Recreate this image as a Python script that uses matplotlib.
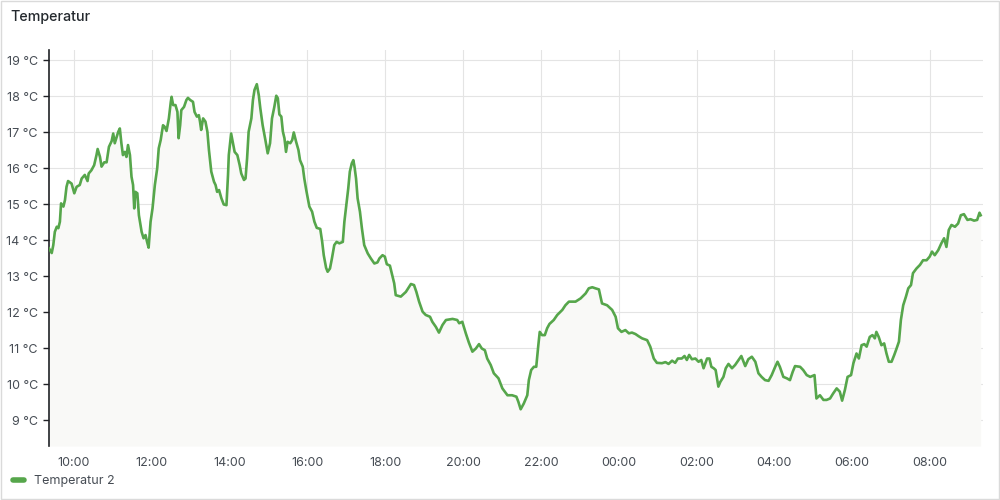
import datetime as dt
import matplotlib
matplotlib.use("Agg")
import matplotlib.pyplot as plt
import matplotlib.dates as mdates
from matplotlib.lines import Line2D
from matplotlib.patches import Rectangle

# hours since midnight of the first day, temperature in degC
hours = [9.36, 9.43, 9.47, 9.51, 9.56, 9.60, 9.64, 9.67, 9.73, 9.77, 9.81, 9.85, 9.94,
         10.01, 10.07, 10.15, 10.20, 10.28, 10.35, 10.38, 10.45, 10.52, 10.58, 10.61, 10.67,
         10.71, 10.78, 10.84, 10.90, 10.97, 11.01, 11.05, 11.09, 11.14, 11.18, 11.22, 11.26,
         11.31, 11.35, 11.39, 11.44, 11.48, 11.52, 11.55, 11.58, 11.63, 11.67, 11.74, 11.79,
         11.84, 11.88, 11.92, 11.97, 12.02, 12.08, 12.14, 12.18, 12.23, 12.29, 12.33, 12.38,
         12.44, 12.49, 12.51, 12.55, 12.61, 12.66, 12.69, 12.73, 12.76, 12.83, 12.89, 12.93,
         12.99, 13.06, 13.10, 13.16, 13.21, 13.24, 13.27, 13.32, 13.38, 13.43, 13.47, 13.53,
         13.60, 13.64, 13.68, 13.73, 13.79, 13.85, 13.92, 13.96, 13.98, 14.04, 14.08, 14.13,
         14.20, 14.26, 14.30, 14.37, 14.41, 14.45, 14.49, 14.56, 14.60, 14.64, 14.70, 14.75,
         14.79, 14.85, 14.92, 14.98, 15.04, 15.09, 15.15, 15.20, 15.24, 15.28, 15.33, 15.37,
         15.41, 15.45, 15.49, 15.56, 15.61, 15.65, 15.71, 15.77, 15.81, 15.88, 15.92, 15.97,
         16.05, 16.12, 16.18, 16.24, 16.33, 16.38, 16.42, 16.48, 16.52, 16.58, 16.63, 16.69,
         16.75, 16.82, 16.91, 16.95, 16.99, 17.05, 17.09, 17.14, 17.18, 17.21, 17.25, 17.29,
         17.35, 17.40, 17.46, 17.55, 17.63, 17.72, 17.80, 17.85, 17.93, 17.99, 18.04, 18.12,
         18.19, 18.23, 18.27, 18.40, 18.53, 18.66, 18.74, 18.80, 18.87, 18.96, 19.04, 19.15,
         19.21, 19.30, 19.38, 19.47, 19.56, 19.73, 19.85, 19.90, 19.98, 20.07, 20.15, 20.24,
         20.33, 20.41, 20.48, 20.56, 20.62, 20.71, 20.79, 20.91, 21.01, 21.14, 21.26, 21.37,
         21.42, 21.48, 21.56, 21.65, 21.69, 21.75, 21.82, 21.88, 21.93, 21.97, 22.03, 22.10,
         22.16, 22.22, 22.33, 22.42, 22.55, 22.63, 22.72, 22.89, 23.02, 23.15, 23.23, 23.32,
         23.40, 23.49, 23.57, 23.70, 23.83, 23.92, 23.98, 24.07, 24.17, 24.26, 24.34, 24.43,
         24.51, 24.60, 24.73, 24.81, 24.90, 24.98, 25.11, 25.20, 25.28, 25.37, 25.45, 25.52,
         25.62, 25.69, 25.75, 25.81, 25.88, 25.97, 26.05, 26.12, 26.18, 26.27, 26.33, 26.38,
         26.44, 26.49, 26.56, 26.61, 26.69, 26.75, 26.82, 26.91, 26.99, 27.08, 27.15, 27.25,
         27.33, 27.42, 27.51, 27.59, 27.67, 27.76, 27.85, 27.93, 28.02, 28.08, 28.14, 28.23,
         28.32, 28.40, 28.47, 28.53, 28.66, 28.74, 28.83, 28.92, 29.03, 29.08, 29.17, 29.26,
         29.34, 29.43, 29.51, 29.60, 29.68, 29.74, 29.81, 29.88, 29.97, 30.03, 30.11, 30.17,
         30.24, 30.31, 30.37, 30.45, 30.52, 30.58, 30.62, 30.68, 30.75, 30.82, 30.88, 30.94,
         31.01, 31.08, 31.14, 31.20, 31.25, 31.31, 31.38, 31.44, 31.51, 31.56, 31.65, 31.74,
         31.82, 31.91, 31.99, 32.05, 32.12, 32.21, 32.29, 32.36, 32.42, 32.48, 32.55, 32.64,
         32.72, 32.79, 32.87, 32.96, 33.04, 33.13, 33.21, 33.27, 33.30]

temps = [13.77, 13.64, 13.86, 14.23, 14.37, 14.33, 14.51, 15.02, 14.93, 15.11, 15.48, 15.64, 15.57,
         15.30, 15.48, 15.53, 15.71, 15.81, 15.64, 15.85, 15.94, 16.08, 16.36, 16.53, 16.31,
         16.04, 16.16, 16.16, 16.59, 16.75, 16.96, 16.69, 16.83, 17.01, 17.10, 16.69, 16.36,
         16.45, 16.31, 16.64, 16.36, 15.76, 15.53, 14.88, 15.34, 15.30, 14.69, 14.23, 14.05,
         14.14, 13.95, 13.79, 14.51, 14.88, 15.53, 15.99, 16.55, 16.78, 17.19, 17.15, 17.03,
         17.38, 17.84, 17.98, 17.75, 17.75, 17.56, 16.83, 17.19, 17.61, 17.70, 17.89, 17.95,
         17.89, 17.84, 17.56, 17.43, 17.47, 17.29, 17.06, 17.38, 17.29, 17.01, 16.50, 15.90,
         15.62, 15.53, 15.34, 15.39, 15.16, 14.99, 14.97, 15.81, 16.36, 16.96, 16.73, 16.45,
         16.36, 16.08, 15.85, 15.67, 15.71, 16.27, 17.01, 17.38, 17.89, 18.17, 18.33, 18.03,
         17.66, 17.19, 16.78, 16.41, 16.69, 17.38, 17.70, 18.01, 17.94, 17.49, 17.43, 17.01,
         16.83, 16.45, 16.73, 16.69, 16.78, 16.99, 16.73, 16.50, 16.22, 16.04, 15.71, 15.39,
         14.93, 14.79, 14.51, 14.34, 14.31, 13.95, 13.58, 13.23, 13.12, 13.21, 13.49, 13.86,
         13.95, 13.91, 13.95, 14.51, 14.88, 15.44, 15.90, 16.13, 16.22, 16.04, 15.71, 15.16,
         14.79, 14.33, 13.86, 13.63, 13.49, 13.35, 13.38, 13.49, 13.58, 13.54, 13.33, 13.29,
         12.98, 12.80, 12.47, 12.43, 12.56, 12.78, 12.75, 12.56, 12.29, 12.01, 11.92, 11.87,
         11.73, 11.59, 11.43, 11.64, 11.78, 11.81, 11.78, 11.69, 11.73, 11.41, 11.15, 10.90,
         10.99, 11.11, 10.99, 10.94, 10.71, 10.53, 10.30, 10.16, 9.88, 9.69, 9.69, 9.65,
         9.51, 9.30, 9.46, 9.69, 10.11, 10.39, 10.48, 10.48, 11.04, 11.45, 11.36, 11.36,
         11.55, 11.67, 11.78, 11.92, 12.06, 12.19, 12.29, 12.29, 12.38, 12.52, 12.66, 12.69,
         12.66, 12.63, 12.24, 12.19, 12.06, 11.87, 11.55, 11.45, 11.50, 11.41, 11.43, 11.39,
         11.33, 11.27, 11.22, 11.04, 10.71, 10.59, 10.58, 10.61, 10.56, 10.65, 10.59, 10.71,
         10.71, 10.78, 10.67, 10.81, 10.69, 10.71, 10.62, 10.67, 10.44, 10.71, 10.71, 10.48,
         10.44, 10.39, 9.93, 10.06, 10.20, 10.44, 10.56, 10.44, 10.53, 10.67, 10.78, 10.50,
         10.69, 10.76, 10.62, 10.30, 10.20, 10.11, 10.09, 10.25, 10.48, 10.62, 10.48, 10.20,
         10.16, 10.11, 10.34, 10.50, 10.48, 10.39, 10.25, 10.20, 10.25, 9.60, 9.69, 9.56,
         9.56, 9.60, 9.74, 9.88, 9.79, 9.54, 9.83, 10.20, 10.25, 10.58, 10.85, 10.71,
         11.08, 11.11, 11.04, 11.31, 11.36, 11.27, 11.45, 11.31, 11.08, 11.13, 10.85, 10.62,
         10.62, 10.81, 10.99, 11.18, 11.78, 12.19, 12.43, 12.66, 12.75, 13.08, 13.21, 13.31,
         13.44, 13.44, 13.54, 13.68, 13.58, 13.72, 13.91, 14.05, 13.81, 14.28, 14.42, 14.37,
         14.46, 14.69, 14.72, 14.56, 14.58, 14.54, 14.56, 14.76, 14.69]

series_name = "Temperatur 2"
title = "Temperatur"
y_ticks = [9, 10, 11, 12, 13, 14, 15, 16, 17, 18, 19]

green = "#56a64b"
text_col = "#464c54"
grid_col = "#e4e4e4"

plt.rcParams['font.family'] = ['Inter', 'DejaVu Sans']

day0 = dt.datetime(2024, 1, 1)
times = [day0 + dt.timedelta(hours=h) for h in hours]
x_start = day0 + dt.timedelta(hours=9.36)
x_end = day0 + dt.timedelta(hours=33.36)
y_lo, y_hi = 8.28, 19.28

fig = plt.figure(figsize=(10, 5), dpi=100)
ax = fig.add_axes([0.049, 0.108, 0.934, 0.792])

ax.fill_between(times, temps, y_lo, color="#f9f9f7", lw=0, zorder=1)
ax.plot(times, temps, color=green, lw=1.9, zorder=3, solid_joinstyle='round')

ax.set_xlim(x_start, x_end)
ax.set_ylim(y_lo, y_hi)
ax.set_yticks(y_ticks)
ax.set_yticklabels([f"{v} °C" for v in y_ticks])
ax.xaxis.set_major_locator(mdates.HourLocator(byhour=range(0, 24, 2)))
ax.xaxis.set_major_formatter(mdates.DateFormatter("%H:%M"))

ax.grid(True, color=grid_col, lw=0.8, zorder=0)
ax.set_axisbelow(True)
for s in ["top", "right", "bottom"]:
    ax.spines[s].set_visible(False)
ax.spines["left"].set_color("#202226")
ax.spines["left"].set_linewidth(1.2)
ax.tick_params(axis="y", length=4, width=1, color="#202226", labelsize=9,
               labelcolor=text_col, pad=4)
ax.tick_params(axis="x", length=0, labelsize=9, labelcolor=text_col, pad=8)

fig.text(0.01, 0.965, title, fontsize=10.3, color="#24292e", fontweight="medium",
         ha="left", va="center")

handle = Line2D([], [], color=green, lw=4, solid_capstyle="round")
fig.legend([handle], [series_name], loc="center left", bbox_to_anchor=(0.002, 0.038),
           frameon=False, fontsize=9, handlelength=0.85, handletextpad=0.85,
           labelcolor=text_col)

fig.patches.append(Rectangle((0.001, 0.002), 0.998, 0.996, transform=fig.transFigure,
                             fill=False, ec="#dadada", lw=1))

fig.savefig("out.png", dpi=100, facecolor="white")
